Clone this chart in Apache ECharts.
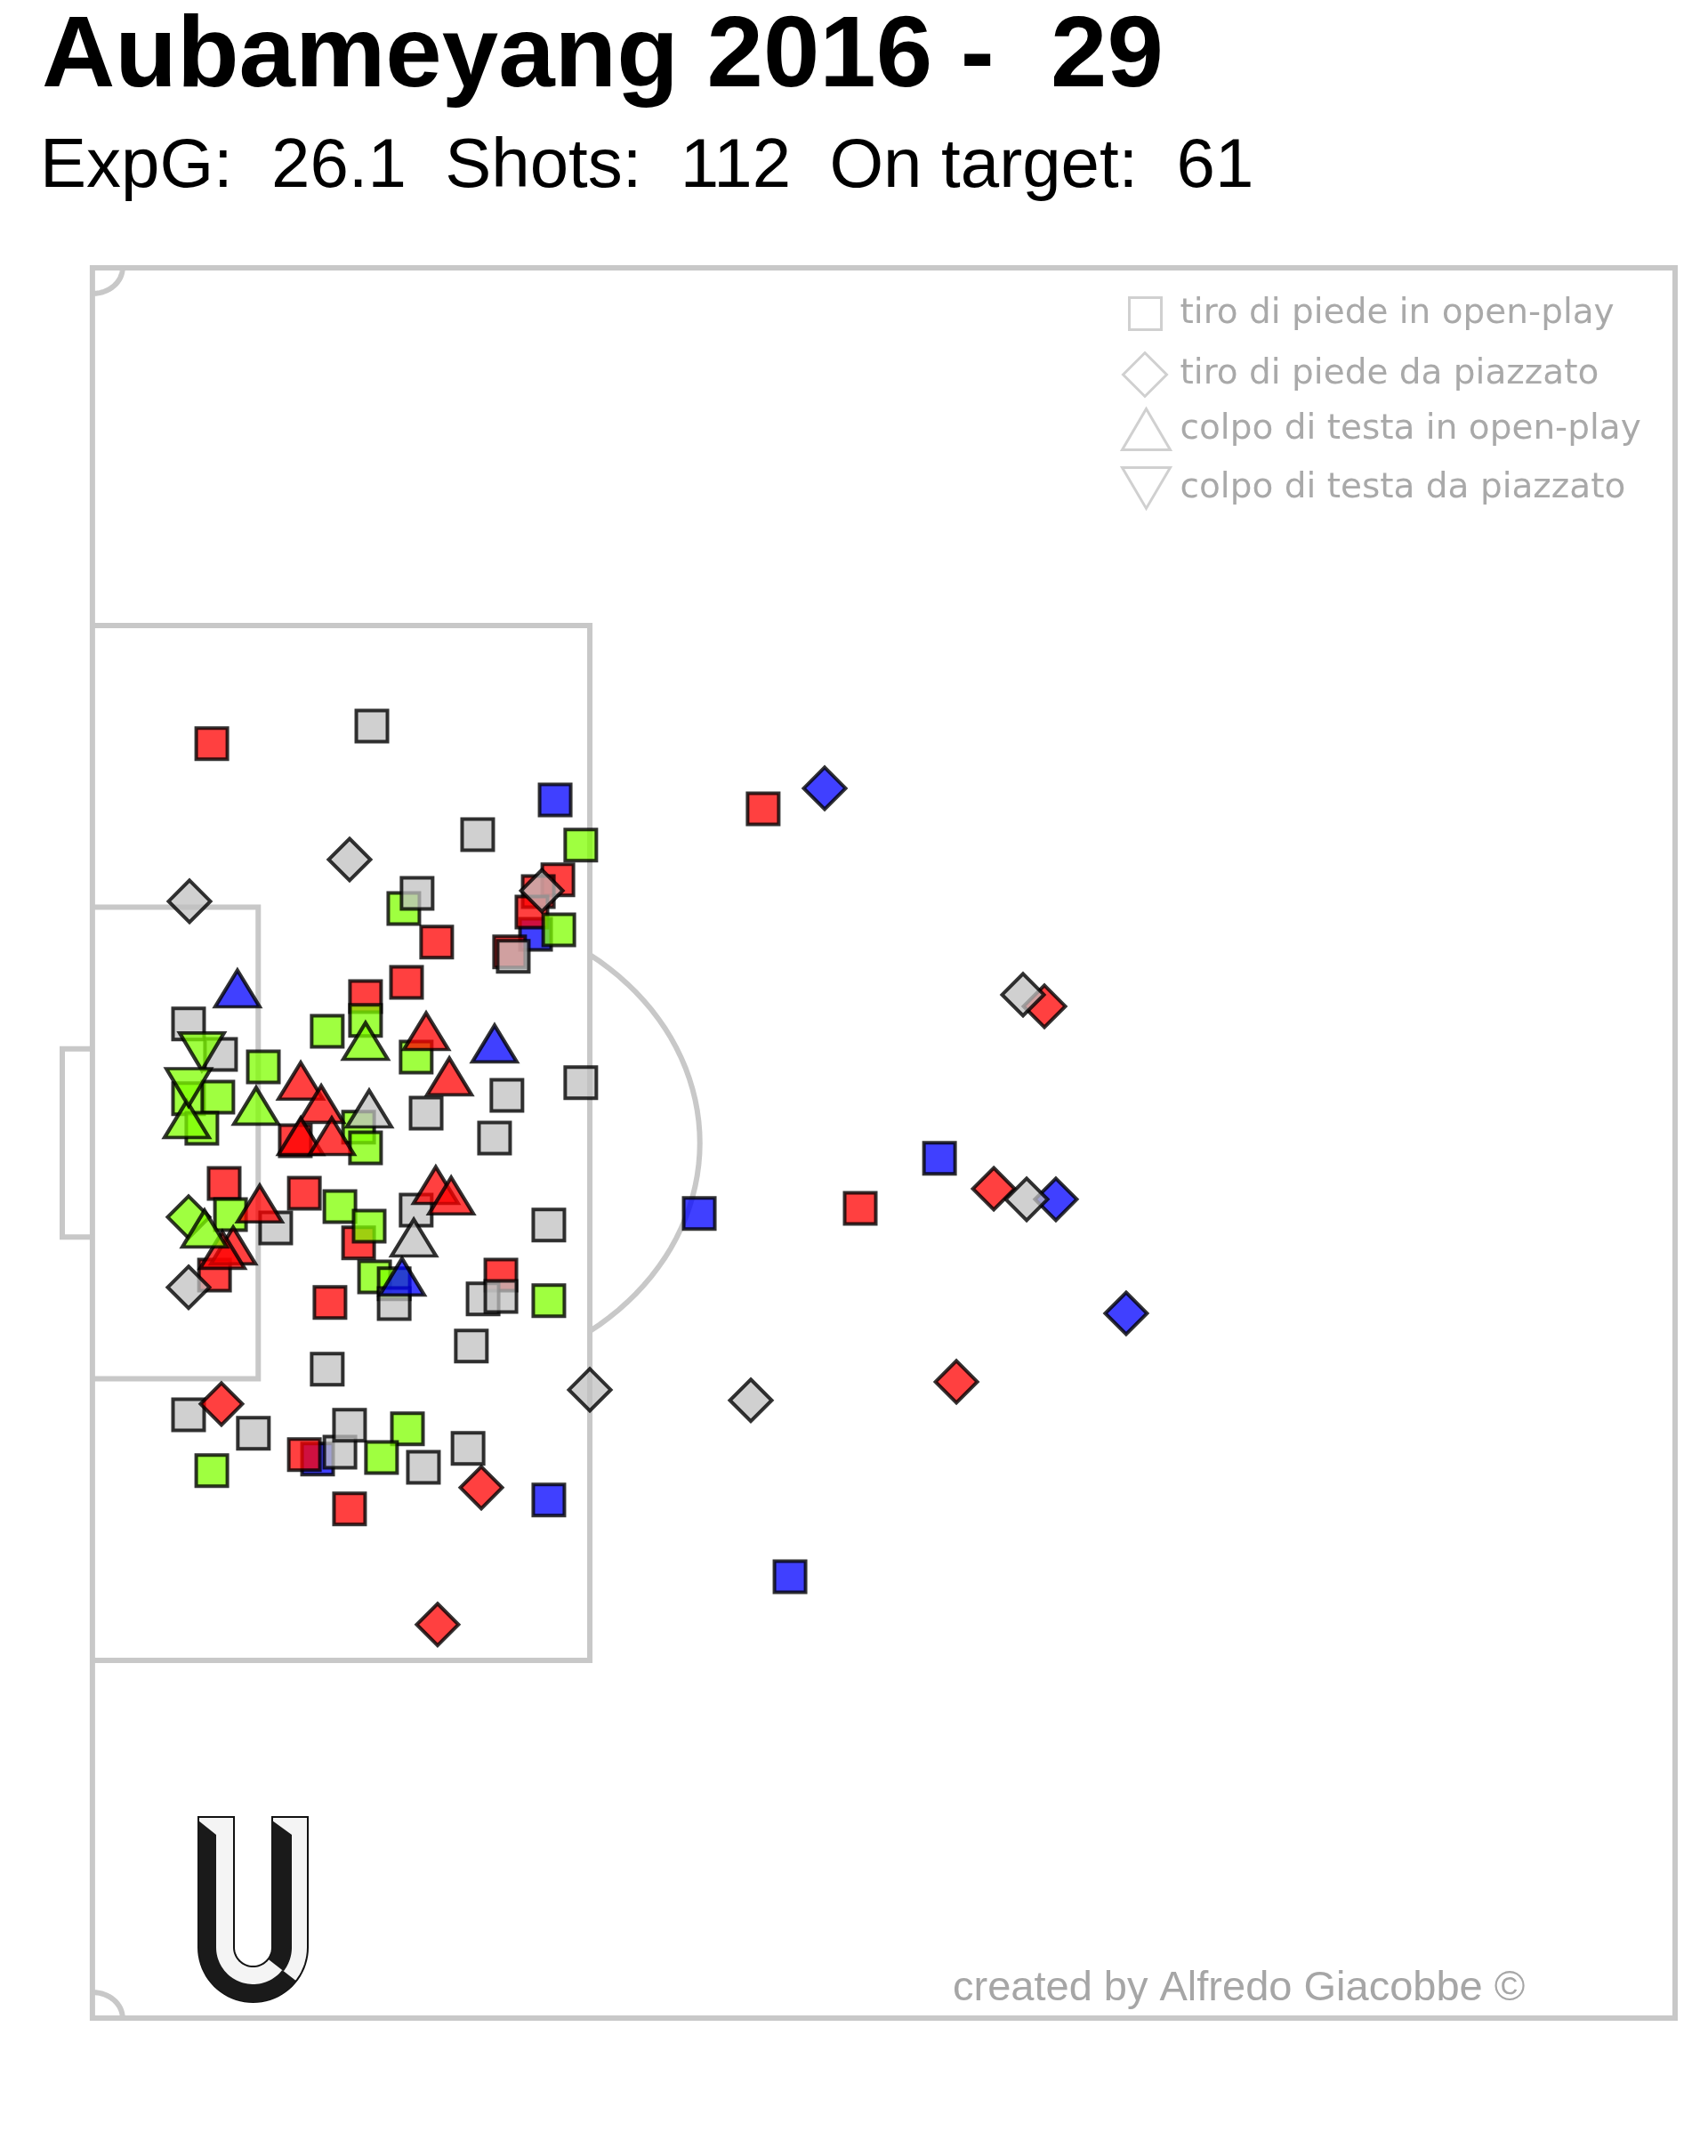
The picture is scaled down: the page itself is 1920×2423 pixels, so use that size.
<!DOCTYPE html>
<html>
<head>
<meta charset="utf-8">
<title>Aubameyang 2016 - 29</title>
<script src="https://cdn.jsdelivr.net/npm/echarts@6/dist/echarts.min.js"></script>
<style>
  html, body { margin: 0; padding: 0; background: #fff; }
  #chart { width: 1920px; height: 2423px; }
</style>
</head>
<body>
<div id="chart"></div>
<script>
// dati: x = metri dalla linea di porta, y = metri dalla linea laterale in alto
// esito: gol (verde), parato (rosso), murato (blu), fuori (grigio)
const giocatore = 'Aubameyang';
const stagione = '2016';
const gol = 29;
const expG = 26.1;
const tiri = 112;
const inPorta = 61;

const tiroPiedeOpenPlay = [
  [15.35, 20.67, 'murato'], [14.70, 25.89, 'murato'], [7.47, 46.28, 'murato'], [15.14, 47.87, 'murato'],
  [20.13, 36.74, 'murato'], [28.10, 34.60, 'murato'], [23.14, 50.85, 'murato'],
  [3.96, 18.49, 'parato'], [15.44, 23.78, 'parato'], [14.79, 24.23, 'parato'], [14.58, 25.03, 'parato'],
  [13.84, 26.58, 'parato'], [11.42, 26.20, 'parato'], [10.42, 27.76, 'parato'], [9.06, 28.31, 'parato'],
  [6.73, 33.91, 'parato'], [4.37, 35.57, 'parato'], [7.03, 35.95, 'parato'], [8.83, 37.88, 'parato'],
  [4.05, 39.13, 'parato'], [13.55, 39.13, 'parato'], [7.88, 40.20, 'parato'], [7.03, 46.11, 'parato'],
  [8.53, 48.22, 'parato'], [22.25, 21.02, 'parato'], [25.47, 36.54, 'parato'],
  [16.20, 22.43, 'gol'], [10.33, 24.89, 'gol'], [15.47, 25.72, 'gol'], [9.06, 29.24, 'gol'],
  [7.79, 29.66, 'gol'], [10.74, 30.66, 'gol'], [5.67, 31.04, 'gol'], [3.19, 32.28, 'gol'],
  [4.16, 32.22, 'gol'], [3.63, 33.43, 'gol'], [8.83, 33.39, 'gol'], [9.06, 34.19, 'gol'],
  [8.21, 36.47, 'gol'], [9.18, 37.23, 'gol'], [4.58, 36.78, 'gol'], [9.36, 39.20, 'gol'],
  [10.01, 39.47, 'gol'], [15.14, 40.13, 'gol'], [3.96, 46.73, 'gol'], [10.45, 45.11, 'gol'],
  [9.59, 46.22, 'gol'],
  [9.27, 17.80, 'fuori'], [12.78, 22.02, 'fuori'], [10.77, 24.30, 'fuori'], [13.96, 26.75, 'fuori'],
  [3.19, 29.38, 'fuori'], [4.25, 30.56, 'fuori'], [16.20, 31.66, 'fuori'], [13.75, 32.15, 'fuori'],
  [11.07, 32.84, 'fuori'], [13.34, 33.81, 'fuori'], [6.08, 37.30, 'fuori'], [10.74, 36.61, 'fuori'],
  [15.14, 37.19, 'fuori'], [10.01, 40.24, 'fuori'], [12.96, 40.06, 'fuori'], [13.55, 39.96, 'fuori'],
  [12.57, 41.89, 'fuori'], [7.79, 42.79, 'fuori'], [3.19, 44.56, 'fuori'], [5.34, 45.28, 'fuori'],
  [8.21, 46.01, 'fuori'], [8.53, 44.97, 'fuori'], [10.98, 46.60, 'fuori'], [12.46, 45.87, 'fuori']
];

const tiroPiedePiazzato = [
  [24.29, 20.22, 'murato'], [31.96, 36.19, 'murato'], [34.29, 40.62, 'murato'],
  [4.28, 44.14, 'parato'], [12.90, 47.39, 'parato'], [11.45, 52.71, 'parato'],
  [31.58, 28.69, 'parato'], [29.90, 35.78, 'parato'], [28.66, 43.28, 'parato'],
  [3.19, 36.88, 'gol'],
  [8.53, 22.99, 'fuori'], [3.22, 24.61, 'fuori'], [14.91, 24.20, 'fuori'], [3.19, 39.61, 'fuori'],
  [16.50, 43.59, 'fuori'], [30.87, 28.24, 'fuori'], [30.99, 36.19, 'fuori'], [21.84, 44.00, 'fuori']
];

const testaOpenPlay = [
  [4.81, 28.00, 'murato'], [13.34, 30.14, 'murato'], [10.27, 39.20, 'murato'],
  [11.07, 29.66, 'parato'], [11.84, 31.42, 'parato'], [6.91, 31.59, 'parato'], [7.59, 32.49, 'parato'],
  [6.91, 33.74, 'parato'], [7.94, 33.74, 'parato'], [5.55, 36.36, 'parato'], [11.39, 35.64, 'parato'],
  [11.90, 36.05, 'parato'], [4.67, 37.99, 'parato'], [4.31, 38.16, 'parato'],
  [9.06, 30.04, 'gol'], [5.43, 32.56, 'gol'], [3.13, 33.08, 'gol'], [3.72, 37.33, 'gol'],
  [9.18, 32.67, 'fuori'], [10.66, 37.68, 'fuori']
];

const testaPiazzato = [
  [3.63, 30.45, 'gol'], [3.19, 31.84, 'gol']
];

const nomiTiri = [
  'tiro di piede in open-play',
  'tiro di piede da piazzato',
  'colpo di testa in open-play',
  'colpo di testa da piazzato'
];

const coloriEsito = {
  gol: 'rgba(127,255,0,0.75)',
  parato: 'rgba(255,0,0,0.75)',
  murato: 'rgba(0,0,255,0.75)',
  fuori: 'rgba(192,192,192,0.75)'
};

// misure del campo (metri)
const LUNGHEZZA = 52.5, LARGHEZZA = 68;
const AREA_P = 16.5, AREA_P_LARGA = 40.2;
const AREA_P6 = 5.5, AREA_P6_LARGA = 18.32;
const PORTA = 7.32, RAGGIO = 9.15, DISCHETTO = 11;

// punti lungo un arco (gradi, y verso il basso)
function arco(cx, cy, r, a0, a1, n) {
  n = n || 40;
  let pts = [];
  for (let i = 0; i <= n; i++) {
    let a = (a0 + (a1 - a0) * i / n) * Math.PI / 180;
    pts.push([cx + r * Math.cos(a), cy + r * Math.sin(a)]);
  }
  return pts;
}

const mid = LARGHEZZA / 2;
const angArco = Math.acos((AREA_P - DISCHETTO) / RAGGIO) * 180 / Math.PI;
const lineeCampo = [
  [[0, 0], [LUNGHEZZA, 0], [LUNGHEZZA, LARGHEZZA], [0, LARGHEZZA], [0, 0], [LUNGHEZZA, 0]],
  [[0, mid - AREA_P_LARGA / 2], [AREA_P, mid - AREA_P_LARGA / 2], [AREA_P, mid + AREA_P_LARGA / 2], [0, mid + AREA_P_LARGA / 2]],
  [[0, mid - AREA_P6_LARGA / 2], [AREA_P6, mid - AREA_P6_LARGA / 2], [AREA_P6, mid + AREA_P6_LARGA / 2], [0, mid + AREA_P6_LARGA / 2]],
  [[0, mid - PORTA / 2], [-1, mid - PORTA / 2], [-1, mid + PORTA / 2], [0, mid + PORTA / 2]],
  arco(DISCHETTO, mid, RAGGIO, -angArco, angArco),
  arco(0, 0, 1, 0, 90),
  arco(0, LARGHEZZA, 1, -90, 0)
];

// logo "U" in basso a sinistra (pixel)
const uX = 284.5, uY = 2188.5;
const logoU = [[223, 2042], [223, uY]].concat(arco(uX, uY, 61.5, 180, 0), [[346, 2042], [306, 2042], [306, uY]],
  arco(uX, uY, 21.5, 0, 180), [[263, uY], [263, 2042]]);
const logoNeroSx = [[223, 2046], [243, 2062], [243, uY]].concat(arco(uX, uY, 41.5, 180, 38), arco(uX, uY, 61.5, 38, 180));
const logoNeroDx = [[306, 2046], [328, 2062], [328, uY]].concat(arco(uX, uY, 43.5, 0, 38), arco(uX, uY, 21.5, 38, 0));

let myChart = echarts.init(document.getElementById('chart'), null, { renderer: 'canvas' });

const bordo = { borderColor: 'rgba(0,0,0,0.8)', borderWidth: 4 };

function serieTiri(name, symbol, size, data) {
  return {
    type: 'scatter',
    name: name,
    symbol: symbol,
    symbolSize: size,
    data: data,
    z: 3,
    itemStyle: Object.assign({ color: p => coloriEsito[p.value[2]], opacity: 1 }, bordo),
    emphasis: { disabled: true }
  };
}

// una legenda per riga, così ogni icona ha la sua misura
const righeLegenda = [
  { icon: 'rect', left: 1268, top: 333, w: 36, h: 36, pad: 16 },
  { icon: 'diamond', left: 1261, top: 395, w: 49, h: 49, pad: 10 },
  { icon: 'triangle', left: 1260, top: 458, w: 54, h: 46, pad: 6 },
  { icon: 'path://M0,0 L10,0 L5,8.5 Z', left: 1260, top: 524, w: 54, h: 49, pad: 6 }
];

const option = {
  backgroundColor: '#ffffff',
  animation: false,
  title: [
    {
      text: giocatore + ' ' + stagione + ' -  ' + gol,
      left: 42, top: 4,
      textStyle: { fontFamily: 'Liberation Sans', fontSize: 114, fontWeight: 'bold', color: '#000' }
    },
    {
      text: 'ExpG:  ' + expG + '  Shots:  ' + tiri + '  On target:  ' + inPorta,
      left: 40, top: 144,
      textStyle: { fontFamily: 'Liberation Sans', fontSize: 78, fontWeight: 'normal', color: '#000' }
    },
    {
      text: 'created by Alfredo Giacobbe ©',
      left: 1066, top: 2207,
      textStyle: { fontFamily: 'Liberation Sans', fontSize: 47, fontWeight: 'normal', color: '#a6a6a6' }
    }
  ],
  legend: righeLegenda.map((r, i) => ({
    data: [{ name: nomiTiri[i], icon: r.icon }],
    left: r.left, top: r.top,
    orient: 'vertical',
    itemWidth: r.w, itemHeight: r.h,
    selectedMode: false,
    padding: 0,
    itemStyle: { color: 'rgba(0,0,0,0)', borderColor: '#d0d0d0', borderWidth: 3 },
    textStyle: { fontFamily: 'DejaVu Sans', fontSize: 39, color: '#a9a9a9', padding: [0, 0, 0, r.pad] }
  })),
  grid: { left: 70, right: 37, top: 301, bottom: 155 },
  xAxis: {
    type: 'value', min: -1, max: LUNGHEZZA,
    axisLine: { show: false }, axisTick: { show: false }, axisLabel: { show: false }, splitLine: { show: false }
  },
  yAxis: {
    type: 'value', min: 0, max: LARGHEZZA, inverse: true,
    axisLine: { show: false }, axisTick: { show: false }, axisLabel: { show: false }, splitLine: { show: false }
  },
  graphic: [
    { type: 'polygon', z: 10, shape: { points: logoU }, style: { fill: '#f4f4f4', stroke: '#111', lineWidth: 2 } },
    { type: 'polygon', z: 11, shape: { points: logoNeroSx }, style: { fill: '#1a1a1a' } },
    { type: 'polygon', z: 11, shape: { points: logoNeroDx }, style: { fill: '#1a1a1a' } }
  ],
  series: [
    {
      type: 'custom',
      name: 'campo',
      coordinateSystem: 'cartesian2d',
      clip: false,
      silent: true,
      z: 1,
      data: [[0, 0]],
      renderItem: (params, api) => {
        return {
          type: 'group',
          children: lineeCampo.map(linea => ({
            type: 'polyline',
            shape: { points: linea.map(pt => api.coord(pt)) },
            style: { fill: null, stroke: '#c8c8c8', lineWidth: 6 }
          }))
        };
      }
    },
    serieTiri(nomiTiri[0], 'rect', 35, tiroPiedeOpenPlay),
    serieTiri(nomiTiri[1], 'diamond', 47, tiroPiedePiazzato),
    serieTiri(nomiTiri[2], 'triangle', [50, 41], testaOpenPlay),
    serieTiri(nomiTiri[3], 'path://M0,0 L10,0 L5,8.5 Z', [50, 42], testaPiazzato)
  ]
};

myChart.setOption(option);
</script>
</body>
</html>
